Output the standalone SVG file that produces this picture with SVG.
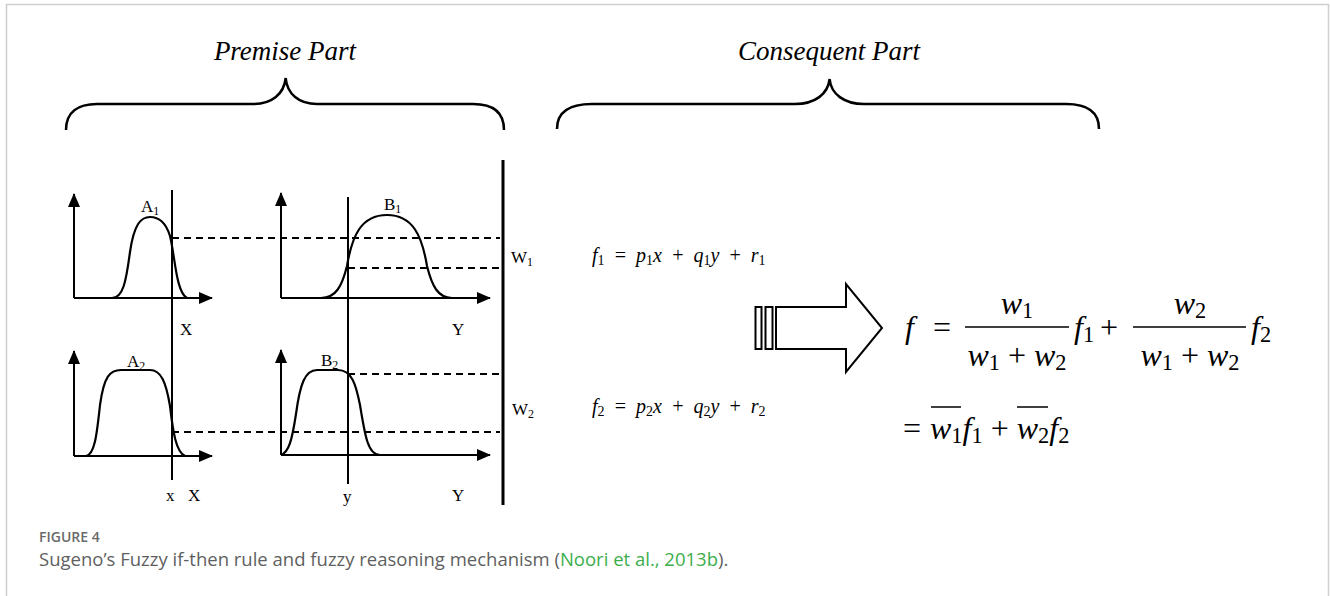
<svg xmlns="http://www.w3.org/2000/svg" width="1330" height="596" viewBox="0 0 1330 596">
<style>
.ln{fill:none;stroke:#000;stroke-width:2}
.ax{fill:none;stroke:#000;stroke-width:2}
.br{fill:none;stroke:#000;stroke-width:2.5}
.ds{fill:none;stroke:#000;stroke-width:2;stroke-dasharray:7 5}
.mf{fill:none;stroke:#000;stroke-width:2.2}
.tt{font-family:"Liberation Serif",serif;font-style:italic;font-size:27px;fill:#000}
.lb{font-family:"Liberation Serif",serif;font-size:17px;fill:#000}
.fm{font-family:"Liberation Serif",serif;font-style:italic;font-size:20px;fill:#000}
.bf{font-family:"Liberation Serif",serif;font-style:italic;font-size:32px;fill:#000}
.op{font-family:"Liberation Serif",serif;font-style:normal;font-size:32px;fill:#000}
.sb{font-size:70%;font-style:normal}
.cap{font-family:"Open Sans","Noto Sans",sans-serif;font-size:18.5px;fill:#5f5f5f}
.fig{font-family:"Open Sans","Noto Sans",sans-serif;font-size:14px;font-weight:600;fill:#6a6a6a}
</style>
<defs>
<marker id="ah" viewBox="0 0 14 12" refX="13" refY="6" markerWidth="14" markerHeight="12" orient="auto" markerUnits="userSpaceOnUse"><path d="M0,0 L14,6 L0,12 Z" fill="#000"/></marker>
</defs>
<rect width="1330" height="596" fill="#fff"/>
<g id="frame" stroke="#cfcfcf" stroke-width="1.5" fill="none">
<path d="M6.5,596 V4.5 H1328.5 V596"/>
</g>
<g id="premise-title">
<text class="tt" x="285" y="60" text-anchor="middle">Premise Part</text>
<path class="br" d="M66,130 C66,112 78,104 97,104 L253,104 C272,104 284,94 285.7,78 C287,94 299,104 317,104 L473,104 C493,104 504,112 504,130"/>
</g>
<g id="consequent-title">
<text class="tt" x="829" y="60" text-anchor="middle">Consequent Part</text>
<path class="br" d="M557,129 C557,112 570,104 592,104 L795,104 C815,104 828,94 829.6,79 C831,94 844,104 864,104 L1066,104 C1087,104 1099,112 1099,129"/>
</g>
<g id="chart-A1">
<path class="ax" d="M74,298 V194" marker-end="url(#ah)"/>
<path class="ax" d="M74,298 H212" marker-end="url(#ah)"/>
<path class="mf" d="M112,298 C123,298 126,282 130,252 C134,224 141,217 150,217 C159,217 166,223 170,236 C175,256 176,292 187,298"/>
<text class="lb" x="141" y="212">A<tspan class="sb" dy="3">1</tspan></text>
<text class="lb" x="180" y="335">X</text>
</g>
<g id="chart-A2">
<path class="ax" d="M74,456 V351" marker-end="url(#ah)"/>
<path class="ax" d="M74,456 H212" marker-end="url(#ah)"/>
<path class="mf" d="M86,456 C95,455 97,432 100,405 C104,376 110,370 121,370 L150,370 C161,370 166,382 170,406 C173,432 176,452 185,456"/>
<text class="lb" x="127" y="367">A<tspan class="sb" dy="3">2</tspan></text>
<text class="lb" x="166" y="501">x</text>
<text class="lb" x="188" y="501">X</text>
</g>
<g id="chart-B1">
<path class="ax" d="M281,298 V193" marker-end="url(#ah)"/>
<path class="ax" d="M281,298 H490" marker-end="url(#ah)"/>
<path class="mf" d="M321,298 C336,298 342,286 347,266 C352,236 361,215 387,215 C413,215 422,236 427,266 C432,286 438,298 452,298"/>
<text class="lb" x="384" y="210">B<tspan class="sb" dy="3">1</tspan></text>
<text class="lb" x="452" y="335">Y</text>
</g>
<g id="chart-B2">
<path class="ax" d="M281,455 V350" marker-end="url(#ah)"/>
<path class="ax" d="M281,455 H490" marker-end="url(#ah)"/>
<path class="mf" d="M281,455 C289,452 292,440 296,414 C300,384 305,370 317,370 L338,370 C352,370 356,385 360,405 C365,436 368,455 380,455"/>
<text class="lb" x="321" y="366">B<tspan class="sb" dy="3">2</tspan></text>
<text class="lb" x="343" y="502">y</text>
<text class="lb" x="452" y="501">Y</text>
</g>
<g id="connectors">
<path class="ln" d="M172,190 V480"/>
<path class="ln" d="M348,197 V484"/>
<path class="ds" d="M172,238 H500"/>
<path class="ds" d="M348,268 H500"/>
<path class="ds" d="M348,374 H500"/>
<path class="ds" d="M172,432 H500"/>
<path d="M503,160 V505" stroke="#000" stroke-width="3"/>
</g>
<g id="weights">
<text class="lb" x="511" y="263">W<tspan class="sb" dy="3">1</tspan></text>
<text class="lb" x="512" y="415">W<tspan class="sb" dy="3">2</tspan></text>
</g>
<g id="rule1">
<text class="fm" x="592" y="262" word-spacing="4">f<tspan class="sb" dy="3">1</tspan><tspan dy="-3"> = p</tspan><tspan class="sb" dy="3">1</tspan><tspan dy="-3">x + q</tspan><tspan class="sb" dy="3">1</tspan><tspan dy="-3">y + r</tspan><tspan class="sb" dy="3">1</tspan></text>
</g>
<g id="rule2">
<text class="fm" x="592" y="413" word-spacing="4">f<tspan class="sb" dy="3">2</tspan><tspan dy="-3"> = p</tspan><tspan class="sb" dy="3">2</tspan><tspan dy="-3">x + q</tspan><tspan class="sb" dy="3">2</tspan><tspan dy="-3">y + r</tspan><tspan class="sb" dy="3">2</tspan></text>
</g>
<g id="arrow" fill="#fff" stroke="#000" stroke-width="2">
<rect x="755.5" y="307" width="6" height="42"/>
<rect x="765.5" y="307" width="7" height="42"/>
<path d="M776,307 H846 V284 L882,328 L846,372 V349 H776 Z"/>
</g>
<g id="result">
<text class="bf" x="905" y="338">f</text>
<text class="op" x="933" y="338">=</text>
<path d="M965,327 H1069" stroke="#000" stroke-width="1.6"/>
<text class="bf" x="1017" y="314" text-anchor="middle">w<tspan class="sb" dy="4">1</tspan></text>
<text class="bf" x="1017" y="366" text-anchor="middle">w<tspan class="sb" dy="4">1</tspan><tspan dy="-4" style="font-style:normal"> + </tspan>w<tspan class="sb" dy="4">2</tspan></text>
<text class="bf" x="1074" y="338">f<tspan class="sb" dy="4">1</tspan></text>
<text class="op" x="1100" y="338">+</text>
<path d="M1133,327 H1246" stroke="#000" stroke-width="1.6"/>
<text class="bf" x="1190" y="314" text-anchor="middle">w<tspan class="sb" dy="4">2</tspan></text>
<text class="bf" x="1190" y="366" text-anchor="middle">w<tspan class="sb" dy="4">1</tspan><tspan dy="-4" style="font-style:normal"> + </tspan>w<tspan class="sb" dy="4">2</tspan></text>
<text class="bf" x="1251" y="338">f<tspan class="sb" dy="4">2</tspan></text>
<text class="op" x="903" y="439">=</text>
<path d="M931,407 H961 M1017,407 H1048" stroke="#000" stroke-width="1.6"/>
<text class="bf" x="930" y="439">w<tspan class="sb" dy="4">1</tspan><tspan dy="-4">f</tspan><tspan class="sb" dy="4">1</tspan><tspan dy="-4" style="font-style:normal"> + </tspan>w<tspan class="sb" dy="4">2</tspan><tspan dy="-4">f</tspan><tspan class="sb" dy="4">2</tspan></text>
</g>
<g id="caption">
<text class="fig" x="39" y="542">FIGURE 4</text>
<text class="cap" x="39" y="566">Sugeno’s Fuzzy if-then rule and fuzzy reasoning mechanism (<tspan fill="#3cae4c">Noori et al., 2013b</tspan>).</text>
</g>
</svg>
